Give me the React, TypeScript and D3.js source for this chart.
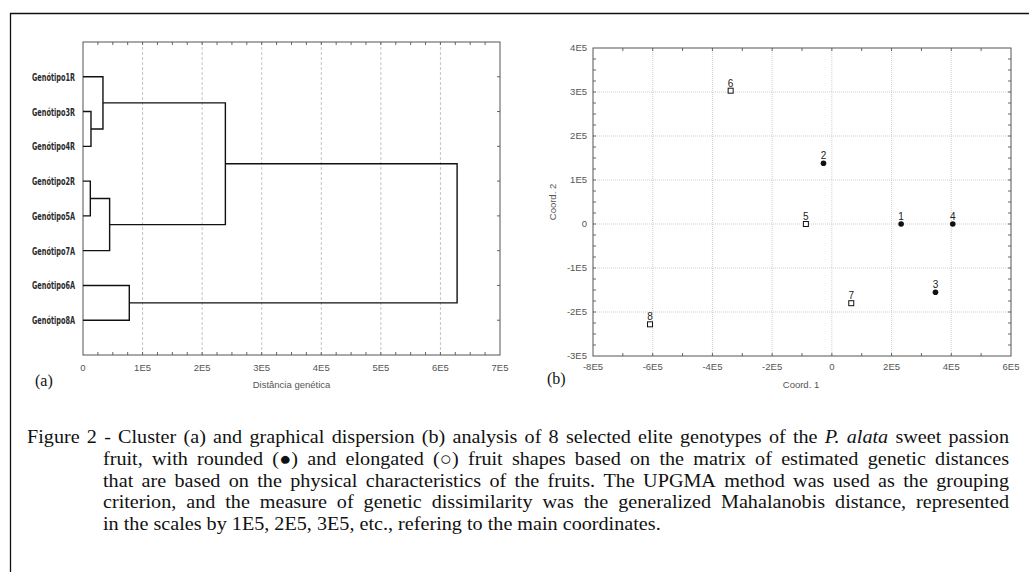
import React from 'react';
import * as d3 from 'd3';

// dendrogram leaves, top to bottom
const genotypes = [
  'Genótipo1R', 'Genótipo3R', 'Genótipo4R', 'Genótipo2R',
  'Genótipo5A', 'Genótipo7A', 'Genótipo6A', 'Genótipo8A',
];
// UPGMA merges: [childA, childB, distance]; new cluster ids start at 8
const merges: [number, number, number][] = [
  [1, 2, 13400],
  [0, 8, 33500],
  [3, 4, 12300],
  [10, 5, 44700],
  [6, 7, 77700],
  [9, 11, 239000],
  [13, 12, 628000],
];
const distTicks = [0, 1e5, 2e5, 3e5, 4e5, 5e5, 6e5, 7e5];

// principal coordinates
const pointIds = ['1', '2', '3', '4', '5', '6', '7', '8'];
const coord1 = [232000, -28000, 347000, 405000, -87000, -339000, 65000, -609000];
const coord2 = [0, 138000, -155000, 0, 0, 303000, -180000, -228000];
const shapes = ['rounded', 'rounded', 'rounded', 'rounded', 'elongated', 'elongated', 'elongated', 'elongated'];
const c1Ticks = [-8e5, -6e5, -4e5, -2e5, 0, 2e5, 4e5, 6e5];
const c2Ticks = [-3e5, -2e5, -1e5, 0, 1e5, 2e5, 3e5, 4e5];

// caption, one entry per printed line; *...* marks italics
const captionLines = [
  'Figure 2 - Cluster (a) and graphical dispersion (b) analysis of 8 selected elite genotypes of the *P.* *alata* sweet passion',
  'fruit, with rounded (●) and elongated (○) fruit shapes based on the matrix of estimated genetic distances',
  'that are based on the physical characteristics of the fruits. The UPGMA method was used as the grouping',
  'criterion, and the measure of genetic dissimilarity was the generalized Mahalanobis distance, represented',
  'in the scales by 1E5, 2E5, 3E5, etc., refering to the main coordinates.',
];

const fmtE = (v: number) => (v === 0 ? '0' : `${v / 1e5}E5`);

const sans = '"Liberation Sans", Arial, sans-serif';
const serif = '"Liberation Serif", "Times New Roman", serif';
const capSize = 18.5;
const capStretch = 1.09; // the scanned caption is a bit wider than the font

let ctx: CanvasRenderingContext2D | null = null;
function measure(word: string, italic: boolean) {
  if (!ctx) ctx = document.createElement('canvas').getContext('2d');
  if (!ctx) return word.length * capSize * 0.45;
  ctx.font = `${italic ? 'italic ' : ''}${capSize}px "Liberation Serif"`;
  return ctx.measureText(word).width;
}

function CaptionLine({ text, x0, x1, y, justify }: { text: string; x0: number; x1: number; y: number; justify: boolean }) {
  const words = text.split(' ').map(w => {
    const italic = w.startsWith('*') && w.endsWith('*');
    const t = italic ? w.slice(1, -1) : w;
    return { t, italic, w: measure(t, italic) };
  });
  const total = d3.sum(words, d => d.w);
  const space = measure(' ', false);
  const avail = (x1 - x0) / capStretch;
  const gap = justify ? (avail - total) / (words.length - 1) : space;
  let cx = 0;
  return (
    <text transform={`translate(${x0},${y}) scale(${capStretch},1)`} fontFamily={serif} fontSize={capSize} fill="#111">
      {words.map((d, i) => {
        const el = <tspan key={i} x={cx} fontStyle={d.italic ? 'italic' : 'normal'}>{d.t}</tspan>;
        cx += d.w + gap;
        return el;
      })}
    </text>
  );
}

function Dendrogram() {
  const L = 83, R = 500, T = 42, B = 355;
  const x = d3.scaleLinear().domain([0, 7e5]).range([L, R]);
  const y = d3.scaleLinear().domain([0, genotypes.length + 1]).range([T, B]);

  // node positions
  const pos: { y: number; h: number }[] = genotypes.map((_, i) => ({ y: y(i + 1), h: 0 }));
  const paths: string[] = [];
  merges.forEach(([a, b, h]) => {
    const A = pos[a], Bn = pos[b];
    paths.push(`M${x(A.h)},${A.y}H${x(h)}V${Bn.y}H${x(Bn.h)}`);
    pos.push({ y: (A.y + Bn.y) / 2, h });
  });

  const minor = d3.range(2.5e4, 7e5, 2.5e4);

  return (
    <g>
      {distTicks.slice(1, -1).map(t => (
        <line key={`g${t}`} x1={x(t)} x2={x(t)} y1={T} y2={B} stroke="#c4c4c4" strokeDasharray="3,2" />
      ))}
      {minor.map(t => (
        <g key={`m${t}`} stroke="#666">
          <line x1={x(t)} x2={x(t)} y1={T} y2={T + 3} />
          <line x1={x(t)} x2={x(t)} y1={B} y2={B - 3} />
        </g>
      ))}
      {genotypes.map((_, i) => (
        <line key={`r${i}`} x1={R} x2={R - 3} y1={y(i + 1)} y2={y(i + 1)} stroke="#666" />
      ))}
      <rect x={L} y={T} width={R - L} height={B - T} fill="none" stroke="#555" />
      {paths.map((p, i) => (
        <path key={i} d={p} fill="none" stroke="#111" strokeWidth={1.4} />
      ))}
      {genotypes.map((g, i) => (
        <text key={g} x={75} y={y(i + 1)} dy="0.36em" textAnchor="end"
          fontFamily='"DejaVu Sans Condensed", "DejaVu Sans", sans-serif' fontStretch="condensed"
          fontWeight="bold" fontSize={11} fill="#2a2a2a" textLength={43} lengthAdjust="spacingAndGlyphs">{g}</text>
      ))}
      {distTicks.map(t => (
        <text key={`t${t}`} x={x(t)} y={371} textAnchor="middle" fontFamily={sans} fontSize={9.5} fill="#555">{fmtE(t)}</text>
      ))}
      <text x={(L + R) / 2} y={388} textAnchor="middle" fontFamily={sans} fontSize={9.5} fill="#555">Distância genética</text>
      <text x={35} y={386} fontFamily={serif} fontSize={16} fill="#111">(a)</text>
    </g>
  );
}

function Dispersion() {
  const L = 593, R = 1011, T = 48, B = 356;
  const x = d3.scaleLinear().domain([-8e5, 6e5]).range([L, R]);
  const y = d3.scaleLinear().domain([-3e5, 4e5]).range([B, T]);
  const xMinor = d3.range(-7e5, 6e5, 1e5);
  const yMinor = d3.range(-2.75e5, 4e5, 2.5e4);

  return (
    <g>
      {c1Ticks.slice(1, -1).map(t => (
        <line key={`gx${t}`} x1={x(t)} x2={x(t)} y1={T} y2={B} stroke="#cfcfcf" strokeDasharray="1,1" />
      ))}
      {c2Ticks.slice(1, -1).map(t => (
        <line key={`gy${t}`} x1={L} x2={R} y1={y(t)} y2={y(t)} stroke="#cfcfcf" strokeDasharray="1,1" />
      ))}
      {xMinor.map(t => (
        <g key={`mx${t}`} stroke="#666">
          <line x1={x(t)} x2={x(t)} y1={T} y2={T + 3} />
          <line x1={x(t)} x2={x(t)} y1={B} y2={B - 3} />
        </g>
      ))}
      {yMinor.map(t => (
        <g key={`my${t}`} stroke="#666">
          <line x1={L} x2={L + 3} y1={y(t)} y2={y(t)} />
          <line x1={R} x2={R - 3} y1={y(t)} y2={y(t)} />
        </g>
      ))}
      <rect x={L} y={T} width={R - L} height={B - T} fill="none" stroke="#555" />
      {pointIds.map((id, i) => {
        const px = x(coord1[i]), py = y(coord2[i]);
        return (
          <g key={id}>
            {shapes[i] === 'rounded'
              ? <circle cx={px} cy={py} r={2.8} fill="#111" />
              : <rect x={px - 2.5} y={py - 2.5} width={5} height={5} fill="#fff" stroke="#111" strokeWidth={1} />}
            <text x={px} y={py - 4} textAnchor="middle" fontFamily={sans} fontSize={10} fill="#222">{id}</text>
          </g>
        );
      })}
      {c1Ticks.map(t => (
        <text key={`tx${t}`} x={x(t)} y={370} textAnchor="middle" fontFamily={sans} fontSize={9.5} fill="#555">{fmtE(t)}</text>
      ))}
      {c2Ticks.map(t => (
        <text key={`ty${t}`} x={587} y={y(t)} dy="0.35em" textAnchor="end" fontFamily={sans} fontSize={9.5} fill="#555">{fmtE(t)}</text>
      ))}
      <text x={(L + R) / 2 - 1} y={388} textAnchor="middle" fontFamily={sans} fontSize={9.5} fill="#555">Coord. 1</text>
      <text transform={`translate(556,${(T + B) / 2}) rotate(-90)`} textAnchor="middle" fontFamily={sans} fontSize={9.5} fill="#555">Coord. 2</text>
      <text x={547} y={384} fontFamily={serif} fontSize={16} fill="#111">(b)</text>
    </g>
  );
}

export default function App() {
  const baseline0 = 443;
  const lineGap = 21.8;
  return (
    <svg width={1029} height={572} style={{ position: 'absolute', left: 0, top: 0, background: '#fff' }}>
      <rect x={0} y={0} width={1029} height={572} fill="#fff" />
      <path d="M10.5,572V13.5H1029" fill="none" stroke="#111" strokeWidth={1.3} />
      <Dendrogram />
      <Dispersion />
      {captionLines.map((line, i) => (
        <CaptionLine key={i} text={line} x0={i === 0 ? 27 : 103} x1={1009}
          y={baseline0 + lineGap * i} justify={i < captionLines.length - 1} />
      ))}
    </svg>
  );
}
